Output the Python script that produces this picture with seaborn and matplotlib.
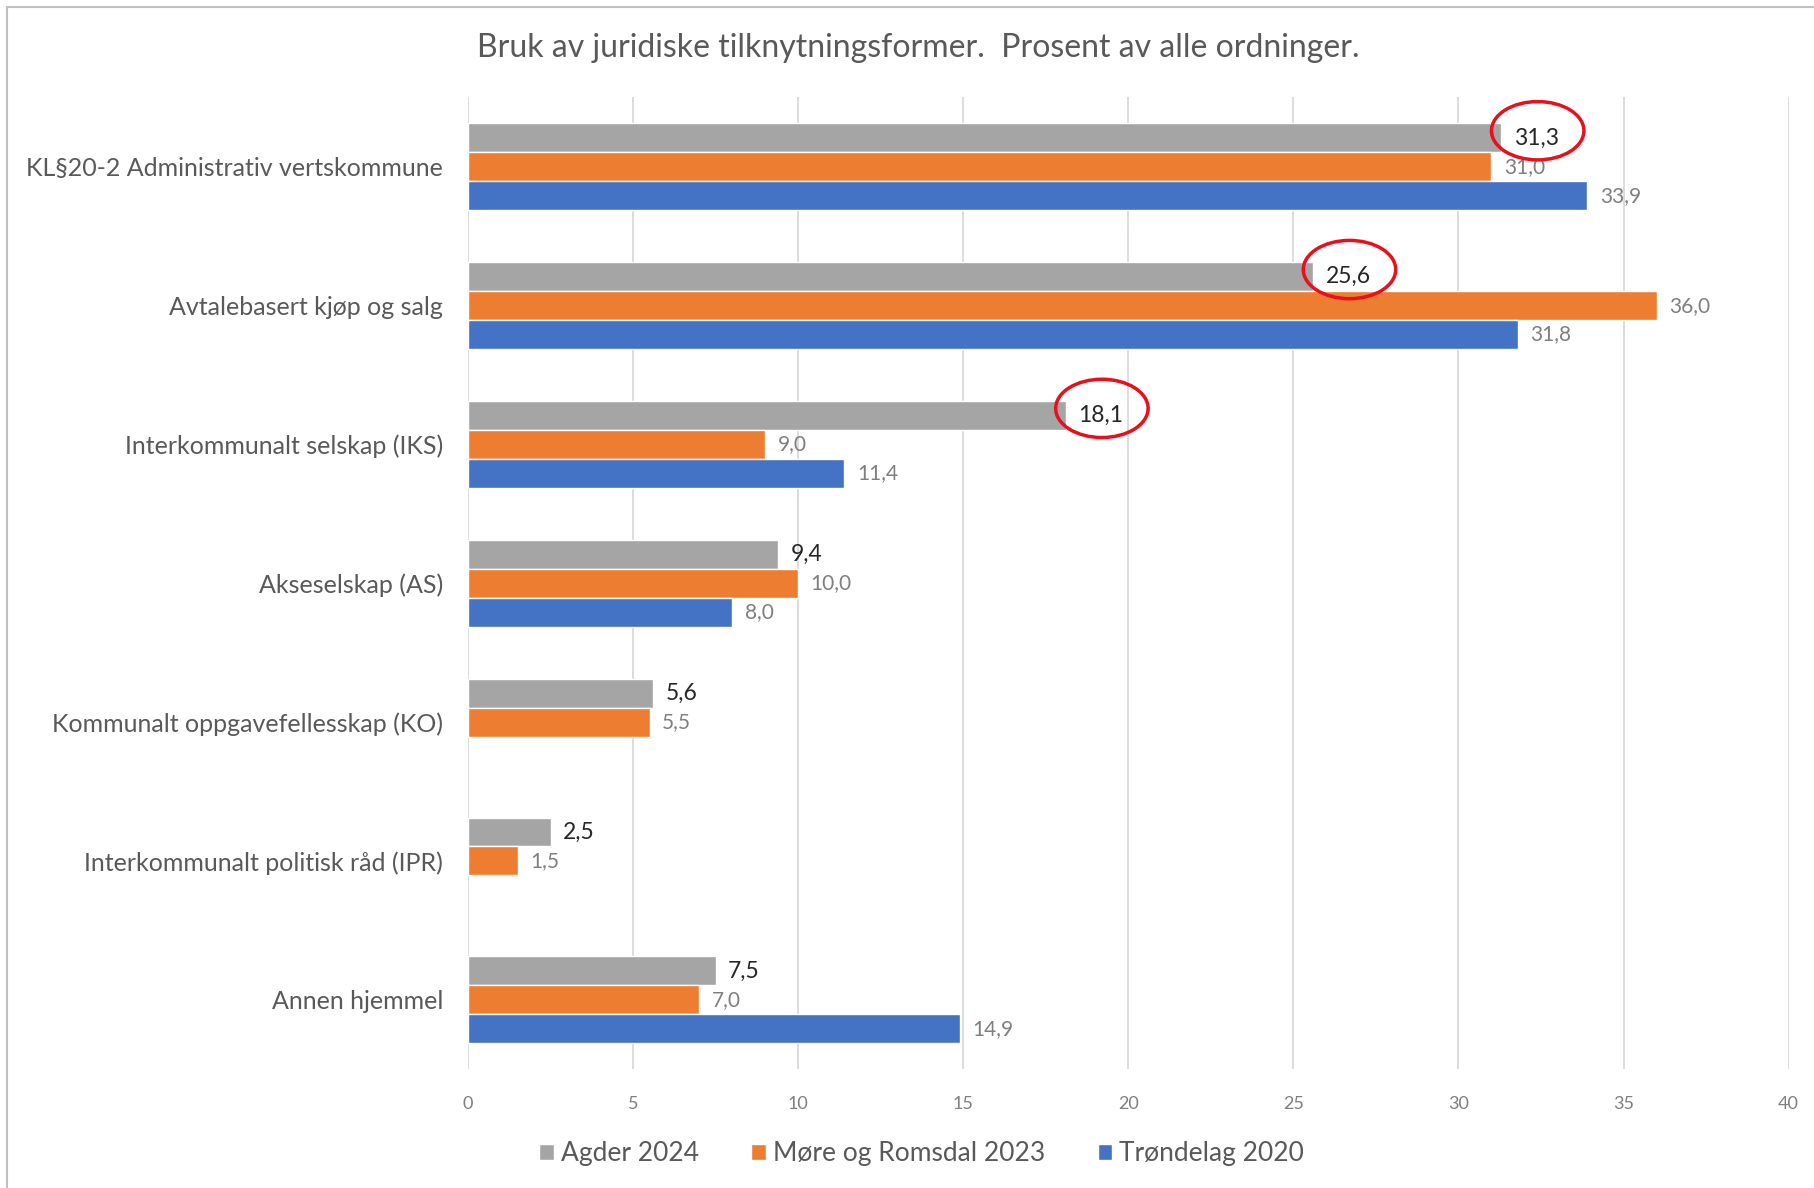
import numpy as np
import pandas as pd
import matplotlib
matplotlib.use("Agg")
import matplotlib.pyplot as plt
import seaborn as sns
from matplotlib.lines import Line2D
from matplotlib.patches import Ellipse

categories = [
    "KL§20-2 Administrativ vertskommune",
    "Avtalebasert kjøp og salg",
    "Interkommunalt selskap (IKS)",
    "Akseselskap (AS)",
    "Kommunalt oppgavefellesskap (KO)",
    "Interkommunalt politisk råd (IPR)",
    "Annen hjemmel",
]
series = ["Agder 2024", "Møre og Romsdal 2023", "Trøndelag 2020"]
agder = [31.3, 25.6, 18.1, 9.4, 5.6, 2.5, 7.5]
more = [31.0, 36.0, 9.0, 10.0, 5.5, 1.5, 7.0]
trondelag = [33.9, 31.8, 11.4, 8.0, np.nan, np.nan, 14.9]
circled = [0, 1, 2]  # Agder-verdier markert med rød ring
xticks = [0, 5, 10, 15, 20, 25, 30, 35, 40]
title = "Bruk av juridiske tilknytningsformer.  Prosent av alle ordninger."

colors = ["#A5A5A5", "#ED7D31", "#4472C4"]

df = pd.DataFrame({
    "kategori": categories * 3,
    "serie": np.repeat(series, len(categories)),
    "verdi": agder + more + trondelag,
}).dropna()

sns.set_style("white")
plt.rcParams["font.family"] = ["Lato", "DejaVu Sans"]

fig = plt.figure(figsize=(18.14, 11.88), dpi=100)
ax = fig.add_axes([0.258, 0.1, 0.728, 0.818])

sns.barplot(data=df, x="verdi", y="kategori", hue="serie", order=categories,
            hue_order=series, palette=colors, orient="h", width=0.625,
            saturation=1, ax=ax, legend=True)

ax.set_xlim(0, 40)
ax.set_ylim(6.5, -0.5)
ax.set_xticks(xticks)
ax.set_xticklabels([str(t) for t in xticks])
ax.xaxis.grid(True, color="#D9D9D9", lw=1.3)
ax.set_axisbelow(True)
sns.despine(ax=ax, left=True, bottom=True)
ax.set_xlabel("")
ax.set_ylabel("")
ax.tick_params(axis="x", length=0, pad=19, labelsize=13, labelcolor="#7F7F7F")
ax.tick_params(axis="y", length=0, pad=18, labelsize=18, labelcolor="#595959")


def fmt(v):
    return f"{v:.1f}".replace(".", ",")


for i, cont in enumerate(ax.containers):
    labels = [fmt(v) for v in cont.datavalues]
    if i == 0:
        ax.bar_label(cont, labels=labels, padding=9, fontsize=16.5,
                     color="#262626")
    else:
        ax.bar_label(cont, labels=labels, padding=9, fontsize=15,
                     color="#7F7F7F")

# røde ringer rundt utvalgte Agder-tall
for idx in circled:
    ax.add_patch(Ellipse((agder[idx] + 1.1, idx - 0.26), width=2.8, height=0.42,
                         fill=False, edgecolor="#E8101A", lw=2.5, zorder=5))

handles, labs = ax.get_legend_handles_labels()
ax.get_legend().remove()
fig.legend(handles, labs, loc="center", bbox_to_anchor=(0.508, 0.029),
           ncol=3, frameon=False, fontsize=19, labelcolor="#595959",
           handlelength=0.55, handleheight=0.55, handletextpad=0.25,
           columnspacing=2.0)

fig.text(0.506, 0.96, title, ha="center", va="center", fontsize=23,
         color="#595959")

# ramme (venstre og topp)
fig.add_artist(Line2D([0.004, 0.004], [0, 0.994], transform=fig.transFigure,
                      color="#BFBFBF", lw=1.5))
fig.add_artist(Line2D([0.004, 1.0], [0.994, 0.994], transform=fig.transFigure,
                      color="#BFBFBF", lw=1.5))

fig.savefig("out.png", dpi=100)
plt.close(fig)
